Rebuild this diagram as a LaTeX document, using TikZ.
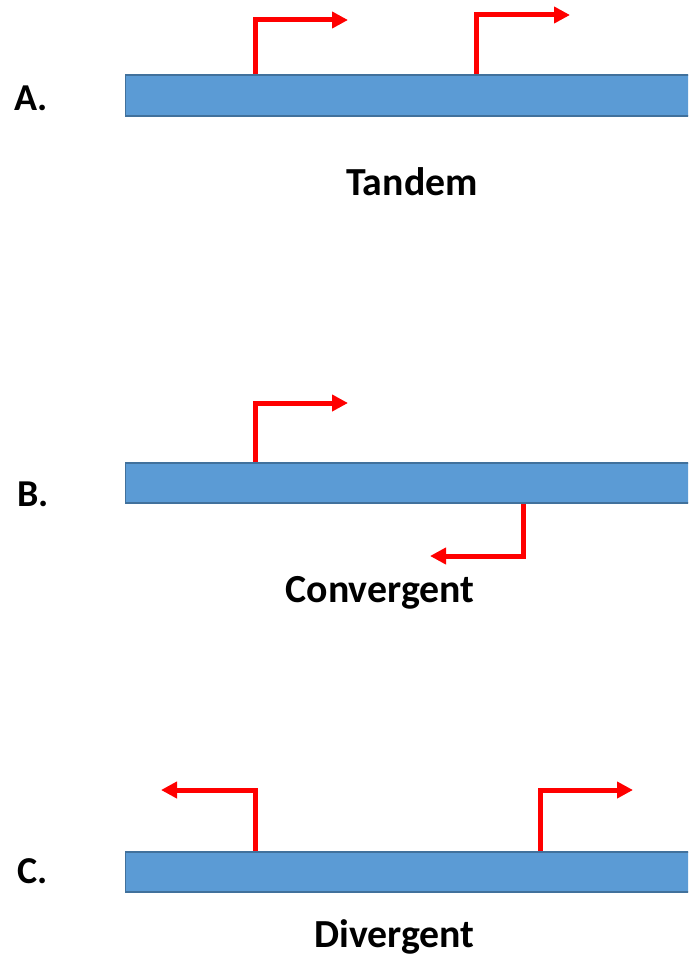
\documentclass[tikz,border=0pt]{standalone}
\usepackage{fontspec}
\setmainfont{Carlito}
\usetikzlibrary{arrows.meta}
\definecolor{barfill}{HTML}{5B9BD5}
\definecolor{barline}{HTML}{41719C}
\definecolor{promred}{HTML}{FF0000}
\tikzset{
  bar/.style={fill=barfill,draw=barline,line width=1.2pt},
  prom/.style={draw=promred,line width=5pt,-{Triangle[length=16pt,width=16pt]}},
  rowlbl/.style={font=\fontsize{38}{42}\selectfont\bfseries,anchor=base,inner sep=0pt},
  captext/.style={font=\fontsize{39.8}{44}\selectfont\bfseries,anchor=base,inner sep=0pt}
}
\begin{document}
\begin{tikzpicture}[x=1pt,y=-1pt]
\useasboundingbox (0,0) rectangle (688,958);
\clip (0,0) rectangle (688,958);
% row A
\coordinate (a1s) at (255,75); \coordinate (a1e) at (348,20);
\coordinate (a2s) at (476,75); \coordinate (a2e) at (570,15);
\draw[prom] (a1s) |- (a1e);
\draw[prom] (a2s) |- (a2e);
\path[bar] (125.5,75) rectangle (700,116);
\node[rowlbl] (la) at (31,110) {A.};
\node[captext] (ta) at (412,195) {Tandem};
% row B
\coordinate (b1s) at (255,463); \coordinate (b1e) at (348,403);
\coordinate (b2s) at (523.5,503); \coordinate (b2e) at (430,556);
\draw[prom] (b1s) |- (b1e);
\draw[prom] (b2s) |- (b2e);
\path[bar] (125.5,463) rectangle (700,503);
\node[rowlbl] (lb) at (33,506) {B.};
\node[captext] (tb) at (380,602) {Convergent};
% row C
\coordinate (c1s) at (255,852); \coordinate (c1e) at (161,790);
\coordinate (c2s) at (540,852); \coordinate (c2e) at (633,790);
\draw[prom] (c1s) |- (c1e);
\draw[prom] (c2s) |- (c2e);
\path[bar] (125.5,852) rectangle (700,892);
\node[rowlbl] (lc) at (33,883) {C.};
\node[captext] (tc) at (394.5,947) {Divergent};
\end{tikzpicture}
\end{document}
